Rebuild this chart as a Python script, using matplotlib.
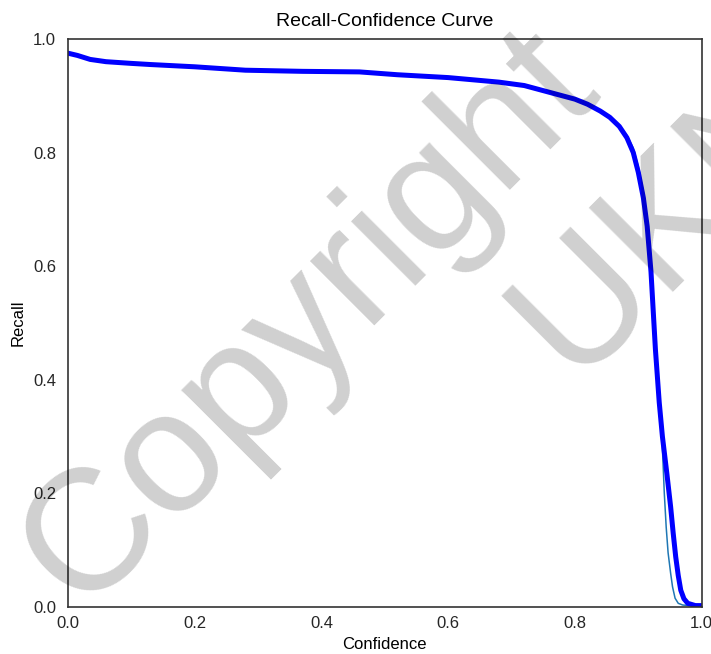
import matplotlib
matplotlib.use("Agg")
import matplotlib.pyplot as plt

# --- data ---
all_conf = [0.0, 0.015, 0.035, 0.06, 0.10, 0.13, 0.20, 0.28, 0.37, 0.46, 0.52,
            0.60, 0.68, 0.72, 0.76, 0.80, 0.82, 0.84, 0.855, 0.87, 0.882,
            0.892, 0.900, 0.908, 0.914, 0.920, 0.927, 0.933, 0.938, 0.945,
            0.951, 0.955, 0.959, 0.963, 0.967, 0.972, 0.978, 0.99, 1.0]
all_recall = [0.975, 0.971, 0.964, 0.960, 0.957, 0.955, 0.951, 0.945, 0.943,
              0.942, 0.937, 0.932, 0.924, 0.918, 0.906, 0.894, 0.885, 0.873,
              0.862, 0.846, 0.826, 0.800, 0.765, 0.720, 0.670, 0.590, 0.453,
              0.360, 0.300, 0.235, 0.176, 0.130, 0.088, 0.055, 0.029, 0.014,
              0.006, 0.002, 0.002]

cls_conf = [0.0, 0.015, 0.035, 0.06, 0.10, 0.13, 0.20, 0.28, 0.37, 0.46, 0.52,
            0.60, 0.68, 0.72, 0.76, 0.80, 0.82, 0.84, 0.855, 0.87, 0.882,
            0.892, 0.900, 0.908, 0.914, 0.920, 0.927, 0.933, 0.938, 0.941,
            0.944, 0.947, 0.951, 0.954, 0.958, 0.963, 0.970, 1.0]
cls_recall = [0.975, 0.971, 0.964, 0.960, 0.957, 0.955, 0.951, 0.945, 0.943,
              0.942, 0.937, 0.932, 0.924, 0.918, 0.906, 0.894, 0.885, 0.873,
              0.862, 0.847, 0.830, 0.808, 0.775, 0.730, 0.680, 0.600, 0.465,
              0.360, 0.280, 0.200, 0.140, 0.095, 0.059, 0.035, 0.015, 0.006,
              0.003, 0.0]

ticks = [0.0, 0.2, 0.4, 0.6, 0.8, 1.0]

plt.rcParams["font.family"] = ["Liberation Sans", "DejaVu Sans"]

fig = plt.figure(figsize=(7.11, 6.54), dpi=100)
ax = fig.add_axes([0.0956, 0.0723, 0.8913, 0.8681])

ax.plot(cls_conf, cls_recall, color="#1f77b4", linewidth=1.1)
ax.plot(all_conf, all_recall, color="blue", linewidth=3.6,
        solid_joinstyle="round", solid_capstyle="round")

ax.set_xlim(0, 1)
ax.set_ylim(0, 1)
ax.set_xticks(ticks)
ax.set_yticks(ticks)
ax.set_xticklabels([f"{t:.1f}" for t in ticks])
ax.set_yticklabels([f"{t:.1f}" for t in ticks])
ax.tick_params(axis="both", length=0, labelsize=12, colors="#262626")
ax.tick_params(axis="x", pad=7)
ax.tick_params(axis="y", pad=8.5)
for s in ax.spines.values():
    s.set_color("#333333")
    s.set_linewidth(1.2)

ax.set_xlabel("Confidence", fontsize=12, labelpad=4)
ax.set_ylabel("Recall", fontsize=12, labelpad=5)
ax.set_title("Recall-Confidence Curve", fontsize=14, pad=9)

# watermark laid over the chart
fig.text(80, 654 - 612, "Copyright", transform=None, fontsize=124,
         rotation=45, rotation_mode="anchor", ha="left", va="baseline",
         color="black", alpha=0.19, zorder=10)
fig.text(572, 654 - 380, "UKN", transform=None, fontsize=124,
         rotation=45, rotation_mode="anchor", ha="left", va="baseline",
         color="black", alpha=0.19, zorder=10)

fig.savefig("out.png", dpi=100)
